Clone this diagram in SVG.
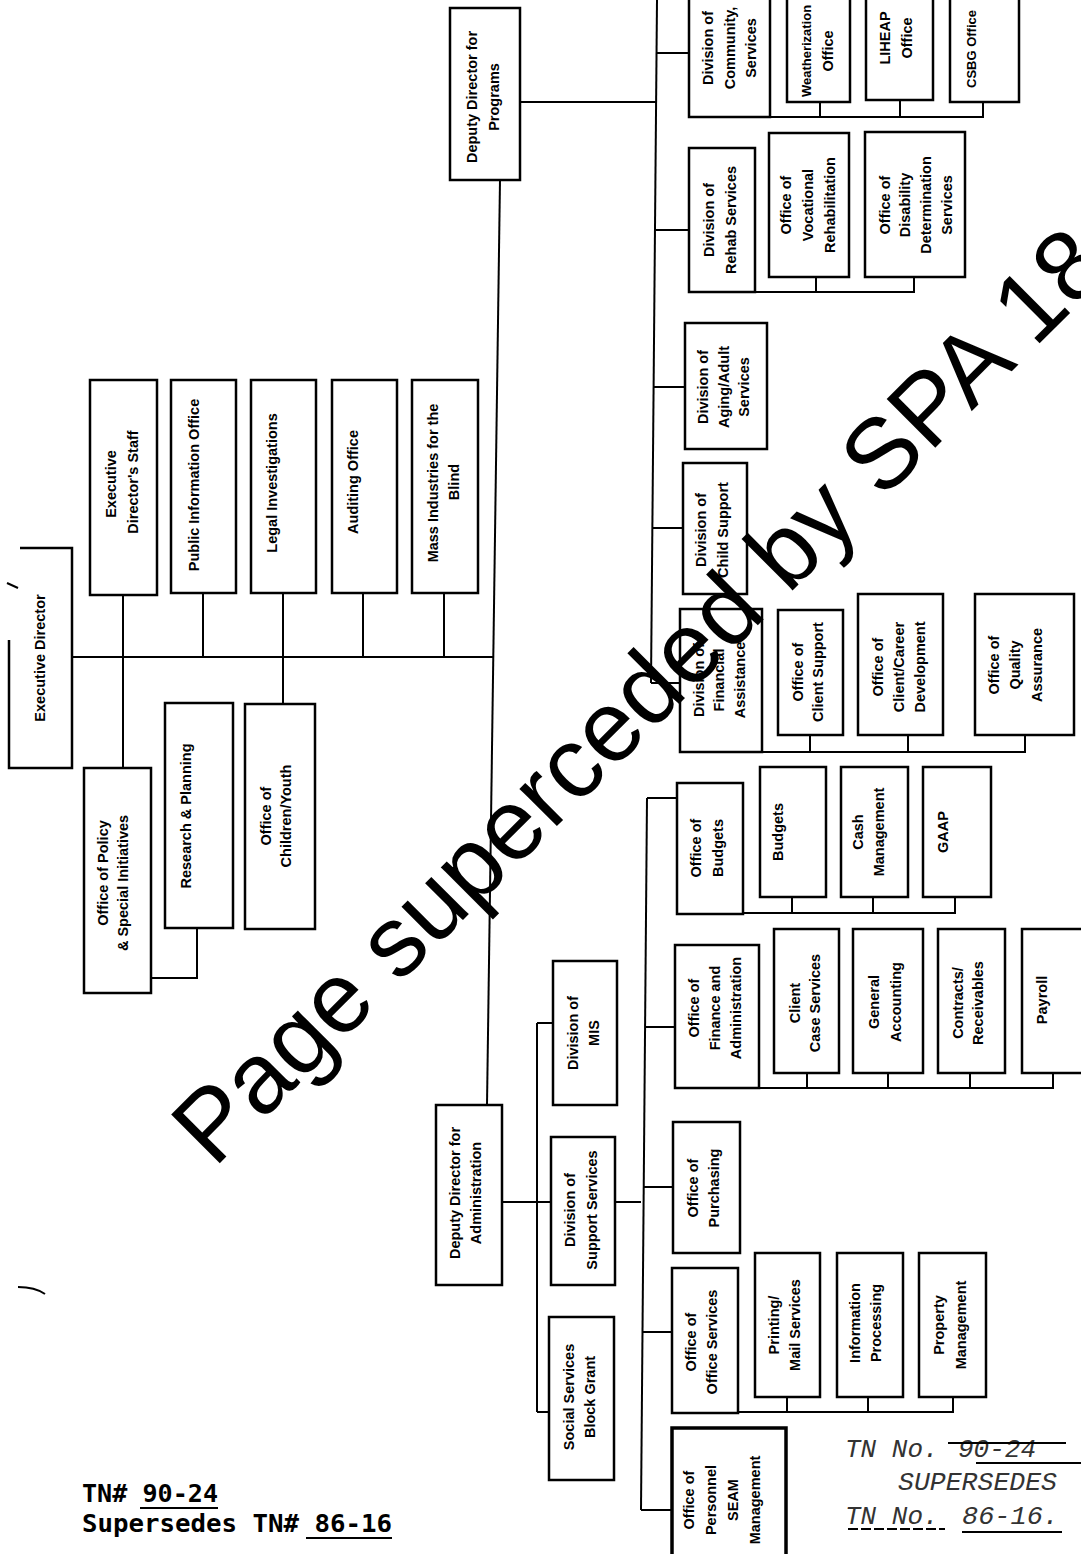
<svg xmlns="http://www.w3.org/2000/svg" width="1081" height="1554" viewBox="0 0 1081 1554">
<style>
.b{fill:#fff;stroke:#000;stroke-width:2.5}
.bb{fill:#fff;stroke:#000;stroke-width:3.5}
.c{fill:none;stroke:#000;stroke-width:2}
.t{font-family:"Liberation Sans",Arial,sans-serif;font-weight:bold;font-size:14.5px;text-anchor:middle;dominant-baseline:central;fill:#000}
.ts{font-size:13px}
.wm{font-family:"Liberation Sans",Arial,sans-serif;font-size:100px;fill:#000}
.st{font-family:"Liberation Mono","Courier New",monospace;font-style:italic;font-size:26px;fill:#333}
.tn{font-family:"DejaVu Sans Mono","Liberation Mono",monospace;font-weight:bold;font-size:25px;fill:#000}
</style>
<rect width="1081" height="1554" fill="#fff"/>

<g id="connectors">
  <path class="c" d="M500,180 L487,1105"/>
  <path class="c" d="M72,657 H493"/>
  <path class="c" d="M123,595 V768"/>
  <path class="c" d="M203,593 V657"/>
  <path class="c" d="M283,593 V704"/>
  <path class="c" d="M363,593 V657"/>
  <path class="c" d="M444,593 V657"/>
  <path class="c" d="M151,978 H197 V928"/>
  <path class="c" d="M657,0 L651,683"/>
  <path class="c" d="M520,102 H656"/>
  <path class="c" d="M657,53 H689"/>
  <path class="c" d="M656,230 H689"/>
  <path class="c" d="M654,387 H685"/>
  <path class="c" d="M652,528 H683"/>
  <path class="c" d="M651,683 H680"/>
  <path class="c" d="M770,117 H983 V102 M820,102 V117 M900,100 V117"/>
  <path class="c" d="M755,292 H914 V277 M816,277 V292"/>
  <path class="c" d="M762,752 H1025 V735 M810,735 V752 M908,735 V752"/>
  <path class="c" d="M502,1202 H551 M615,1202 H641"/>
  <path class="c" d="M537,1023 V1412 M537,1023 H553 M537,1412 H549"/>
  <path class="c" d="M647,798 L641,1510"/>
  <path class="c" d="M647,798 H677"/>
  <path class="c" d="M645,1027 H675"/>
  <path class="c" d="M643,1187 H673"/>
  <path class="c" d="M642,1332 H672"/>
  <path class="c" d="M641,1510 H672"/>
  <path class="c" d="M743,913 H955 V897 M792,897 V913 M873,897 V913"/>
  <path class="c" d="M759,1088 H1053 V1073 M807,1073 V1088 M888,1073 V1088 M970,1073 V1088"/>
  <path class="c" d="M738,1412 H953 V1397 M787,1397 V1412 M868,1397 V1412"/>
</g>

<g id="n-exec-director">
  <path class="b" d="M20,548 H72 V768 H9 V640"/>
  <text class="t" transform="translate(40,658) rotate(-90)">Executive Director</text>
</g>
<g id="n-exec-staff">
  <rect class="b" x="90" y="380" width="67" height="215"/>
  <text class="t" transform="translate(111,484) rotate(-90)">Executive</text>
  <text class="t" transform="translate(133,482) rotate(-90)">Director's Staff</text>
</g>
<g id="n-public-info">
  <rect class="b" x="171" y="380" width="65" height="213"/>
  <text class="t" transform="translate(194,485) rotate(-90)">Public Information Office</text>
</g>
<g id="n-legal">
  <rect class="b" x="251" y="380" width="65" height="213"/>
  <text class="t" transform="translate(272,483) rotate(-90)">Legal Investigations</text>
</g>
<g id="n-auditing">
  <rect class="b" x="332" y="380" width="65" height="213"/>
  <text class="t" transform="translate(353,482) rotate(-90)">Auditing Office</text>
</g>
<g id="n-blind">
  <rect class="b" x="412" y="380" width="66" height="213"/>
  <text class="t" transform="translate(433,483) rotate(-90)">Mass Industries for the</text>
  <text class="t" transform="translate(454,482) rotate(-90)">Blind</text>
</g>
<g id="n-policy">
  <rect class="b" x="84" y="768" width="67" height="225"/>
  <text class="t" transform="translate(103,873) rotate(-90)">Office of Policy</text>
  <text class="t" transform="translate(123,883) rotate(-90)">&amp; Special Initiatives</text>
</g>
<g id="n-research">
  <rect class="b" x="165" y="703" width="68" height="225"/>
  <text class="t" transform="translate(186,816) rotate(-90)">Research &amp; Planning</text>
</g>
<g id="n-children">
  <rect class="b" x="245" y="704" width="70" height="225"/>
  <text class="t" transform="translate(266,816) rotate(-90)">Office of</text>
  <text class="t" transform="translate(286,816) rotate(-90)">Children/Youth</text>
</g>

<g id="n-dd-programs">
  <rect class="b" x="450" y="8" width="70" height="172"/>
  <text class="t" transform="translate(472,97) rotate(-90)">Deputy Director for</text>
  <text class="t" transform="translate(494,97) rotate(-90)">Programs</text>
</g>
<g id="n-community">
  <rect class="b" x="689" y="-5" width="81" height="122"/>
  <text class="t" transform="translate(708,48) rotate(-90)">Division of</text>
  <text class="t" transform="translate(730,48) rotate(-90)">Community,</text>
  <text class="t" transform="translate(751,48) rotate(-90)">Services</text>
</g>
<g id="n-weatherization">
  <rect class="b" x="787" y="-5" width="63" height="107"/>
  <text class="t ts" transform="translate(806,51) rotate(-90)">Weatherization</text>
  <text class="t" transform="translate(828,51) rotate(-90)">Office</text>
</g>
<g id="n-liheap">
  <rect class="b" x="866" y="-5" width="67" height="105"/>
  <text class="t" transform="translate(885,38) rotate(-90)">LIHEAP</text>
  <text class="t" transform="translate(907,38) rotate(-90)">Office</text>
</g>
<g id="n-csbg">
  <rect class="b" x="950" y="-5" width="69" height="107"/>
  <text class="t ts" transform="translate(971,49) rotate(-90)">CSBG Office</text>
</g>
<g id="n-rehab">
  <rect class="b" x="689" y="148" width="66" height="144"/>
  <text class="t" transform="translate(709,220) rotate(-90)">Division of</text>
  <text class="t" transform="translate(731,220) rotate(-90)">Rehab Services</text>
</g>
<g id="n-voc-rehab">
  <rect class="b" x="769" y="133" width="80" height="144"/>
  <text class="t" transform="translate(786,205) rotate(-90)">Office of</text>
  <text class="t" transform="translate(808,205) rotate(-90)">Vocational</text>
  <text class="t" transform="translate(830,205) rotate(-90)">Rehabilitation</text>
</g>
<g id="n-dds">
  <rect class="b" x="865" y="132" width="100" height="145"/>
  <text class="t" transform="translate(885,205) rotate(-90)">Office of</text>
  <text class="t" transform="translate(905,205) rotate(-90)">Disability</text>
  <text class="t" transform="translate(926,205) rotate(-90)">Determination</text>
  <text class="t" transform="translate(947,205) rotate(-90)">Services</text>
</g>
<g id="n-aging">
  <rect class="b" x="685" y="323" width="82" height="126"/>
  <text class="t" transform="translate(703,387) rotate(-90)">Division of</text>
  <text class="t" transform="translate(724,387) rotate(-90)">Aging/Adult</text>
  <text class="t" transform="translate(744,387) rotate(-90)">Services</text>
</g>
<g id="n-child-support">
  <rect class="b" x="683" y="463" width="64" height="131"/>
  <text class="t" transform="translate(701,530) rotate(-90)">Division of</text>
  <text class="t" transform="translate(723,530) rotate(-90)">Child Support</text>
</g>
<g id="n-fin-assist">
  <rect class="b" x="680" y="609" width="82" height="143"/>
  <text class="t" transform="translate(699,680) rotate(-90)">Division of</text>
  <text class="t" transform="translate(719,680) rotate(-90)">Financial</text>
  <text class="t" transform="translate(740,680) rotate(-90)">Assistance</text>
</g>
<g id="n-client-support">
  <rect class="b" x="778" y="610" width="65" height="125"/>
  <text class="t" transform="translate(798,672) rotate(-90)">Office of</text>
  <text class="t" transform="translate(818,672) rotate(-90)">Client Support</text>
</g>
<g id="n-client-career">
  <rect class="b" x="858" y="594" width="85" height="141"/>
  <text class="t" transform="translate(878,667) rotate(-90)">Office of</text>
  <text class="t" transform="translate(899,667) rotate(-90)">Client/Career</text>
  <text class="t" transform="translate(920,667) rotate(-90)">Development</text>
</g>
<g id="n-quality">
  <rect class="b" x="975" y="594" width="99" height="141"/>
  <text class="t" transform="translate(994,665) rotate(-90)">Office of</text>
  <text class="t" transform="translate(1015,665) rotate(-90)">Quality</text>
  <text class="t" transform="translate(1037,665) rotate(-90)">Assurance</text>
</g>

<g id="n-dd-admin">
  <rect class="b" x="436" y="1105" width="66" height="180"/>
  <text class="t" transform="translate(455,1193) rotate(-90)">Deputy Director for</text>
  <text class="t" transform="translate(476,1193) rotate(-90)">Administration</text>
</g>
<g id="n-mis">
  <rect class="b" x="553" y="961" width="64" height="144"/>
  <text class="t" transform="translate(573,1033) rotate(-90)">Division of</text>
  <text class="t" transform="translate(594,1033) rotate(-90)">MIS</text>
</g>
<g id="n-support-services">
  <rect class="b" x="551" y="1137" width="64" height="148"/>
  <text class="t" transform="translate(570,1210) rotate(-90)">Division of</text>
  <text class="t" transform="translate(592,1210) rotate(-90)">Support Services</text>
</g>
<g id="n-ssbg">
  <rect class="b" x="549" y="1317" width="65" height="163"/>
  <text class="t" transform="translate(569,1397) rotate(-90)">Social Services</text>
  <text class="t" transform="translate(590,1397) rotate(-90)">Block Grant</text>
</g>
<g id="n-office-budgets">
  <rect class="b" x="677" y="783" width="66" height="131"/>
  <text class="t" transform="translate(696,848) rotate(-90)">Office of</text>
  <text class="t" transform="translate(718,848) rotate(-90)">Budgets</text>
</g>
<g id="n-budgets">
  <rect class="b" x="760" y="767" width="66" height="130"/>
  <text class="t" transform="translate(778,832) rotate(-90)">Budgets</text>
</g>
<g id="n-cash">
  <rect class="b" x="841" y="767" width="67" height="130"/>
  <text class="t" transform="translate(858,832) rotate(-90)">Cash</text>
  <text class="t" transform="translate(879,832) rotate(-90)">Management</text>
</g>
<g id="n-gaap">
  <rect class="b" x="923" y="767" width="68" height="130"/>
  <text class="t" transform="translate(943,832) rotate(-90)">GAAP</text>
</g>
<g id="n-office-finance">
  <rect class="b" x="675" y="945" width="84" height="143"/>
  <text class="t" transform="translate(694,1008) rotate(-90)">Office of</text>
  <text class="t" transform="translate(715,1008) rotate(-90)">Finance and</text>
  <text class="t" transform="translate(736,1008) rotate(-90)">Administration</text>
</g>
<g id="n-client-case">
  <rect class="b" x="774" y="929" width="65" height="144"/>
  <text class="t" transform="translate(795,1003) rotate(-90)">Client</text>
  <text class="t" transform="translate(815,1003) rotate(-90)">Case Services</text>
</g>
<g id="n-general-accounting">
  <rect class="b" x="853" y="929" width="70" height="144"/>
  <text class="t" transform="translate(874,1002) rotate(-90)">General</text>
  <text class="t" transform="translate(896,1002) rotate(-90)">Accounting</text>
</g>
<g id="n-contracts">
  <rect class="b" x="938" y="929" width="67" height="144"/>
  <text class="t" transform="translate(958,1003) rotate(-90)">Contracts/</text>
  <text class="t" transform="translate(978,1003) rotate(-90)">Receivables</text>
</g>
<g id="n-payroll">
  <rect class="b" x="1022" y="929" width="70" height="144"/>
  <text class="t" transform="translate(1042,1000) rotate(-90)">Payroll</text>
</g>
<g id="n-purchasing">
  <rect class="b" x="673" y="1122" width="67" height="131"/>
  <text class="t" transform="translate(693,1188) rotate(-90)">Office of</text>
  <text class="t" transform="translate(714,1188) rotate(-90)">Purchasing</text>
</g>
<g id="n-office-services">
  <rect class="b" x="672" y="1268" width="66" height="145"/>
  <text class="t" transform="translate(691,1342) rotate(-90)">Office of</text>
  <text class="t" transform="translate(712,1342) rotate(-90)">Office Services</text>
</g>
<g id="n-printing">
  <rect class="b" x="755" y="1253" width="65" height="144"/>
  <text class="t" transform="translate(774,1325) rotate(-90)">Printing/</text>
  <text class="t" transform="translate(795,1325) rotate(-90)">Mail Services</text>
</g>
<g id="n-info-processing">
  <rect class="b" x="837" y="1253" width="66" height="144"/>
  <text class="t" transform="translate(855,1323) rotate(-90)">Information</text>
  <text class="t" transform="translate(876,1323) rotate(-90)">Processing</text>
</g>
<g id="n-property">
  <rect class="b" x="919" y="1253" width="67" height="144"/>
  <text class="t" transform="translate(939,1325) rotate(-90)">Property</text>
  <text class="t" transform="translate(961,1325) rotate(-90)">Management</text>
</g>
<g id="n-personnel">
  <rect class="bb" x="672" y="1428" width="114" height="140"/>
  <text class="t" transform="translate(689,1500) rotate(-90)">Office of</text>
  <text class="t" transform="translate(711,1500) rotate(-90)">Personnel</text>
  <text class="t" transform="translate(733,1500) rotate(-90)">SEAM</text>
  <text class="t" transform="translate(755,1500) rotate(-90)">Management</text>
</g>

<g id="marks">
  <path class="c" d="M7,583 L18,588" stroke-width="1.5"/>
  <path class="c" d="M18,1287 Q35,1287 45,1294" stroke-width="1.5"/>
</g>

<g id="stamp">
  <text class="st" x="845" y="1457">TN No.</text>
  <text class="st" x="958" y="1457">90-24</text>
  <path class="c" d="M948,1443 H1066" stroke-width="1.5"/>
  <path class="c" d="M976,1463 H1081" stroke-width="1.5"/>
  <text class="st" x="898" y="1490" textLength="159" lengthAdjust="spacingAndGlyphs">SUPERSEDES</text>
  <text class="st" x="845" y="1524">TN No.</text>
  <text class="st" x="962" y="1524" textLength="97" lengthAdjust="spacingAndGlyphs">86-16.</text>
  <path class="c" d="M848,1529 H945" stroke-width="1.5" stroke-dasharray="10,3"/>
  <path class="c" d="M962,1532 H1062" stroke-width="1.5"/>
</g>

<g id="footnote">
  <text class="tn" x="82" y="1502" textLength="136" lengthAdjust="spacingAndGlyphs">TN# 90-24</text>
  <path class="c" d="M140,1508 H218" stroke-width="2.5"/>
  <text class="tn" x="82" y="1532" textLength="310" lengthAdjust="spacingAndGlyphs">Supersedes TN# 86-16</text>
  <path class="c" d="M306,1538 H392" stroke-width="2.5"/>
</g>

<g id="watermark">
  <text class="wm" transform="translate(214,1169) rotate(-45)">Page superceded by SPA 18</text>
</g>
</svg>
